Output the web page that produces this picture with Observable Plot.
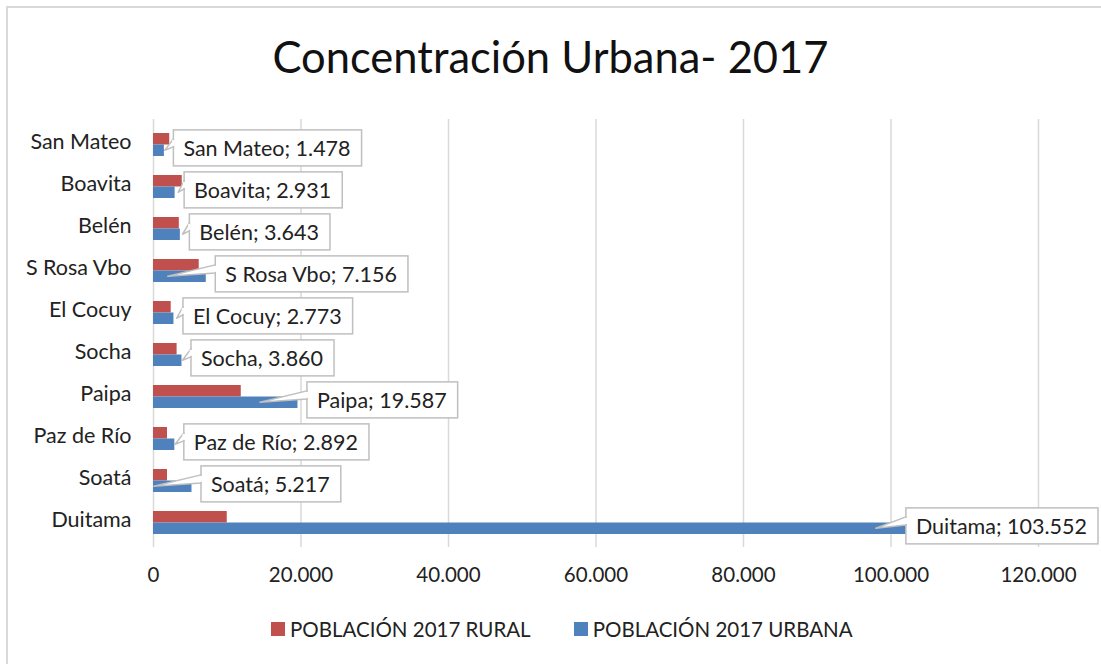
<!DOCTYPE html>
<html>
<head>
<meta charset="utf-8">
<script src="https://cdn.jsdelivr.net/npm/d3@7"></script>
<script src="https://cdn.jsdelivr.net/npm/@observablehq/plot@0.6"></script>
<style>
  html, body { margin: 0; padding: 0; background: #fff; overflow: hidden; }
  #chart { position: relative; width: 1101px; height: 664px; font-family: Lato, "Open Sans", sans-serif; color: #222; }
  #frame { position: absolute; left: 6px; top: 6px; width: 1200px; height: 1000px; border: 2px solid #d9d9d9; pointer-events: none; }
  #title { height: 75px; padding-top: 30px; text-align: center; font-size: 43.5px; line-height: 1.2; color: #111; box-sizing: content-box; white-space: nowrap; }
  #legend { position: absolute; top: 617px; left: 271px; display: flex; align-items: center; font-size: 20.5px; color: #222; white-space: nowrap; }
  .sw { width: 14px; height: 14px; display: inline-block; margin-right: 5px; }
  .item { display: flex; align-items: center; }
</style>
</head>
<body>
<div id="chart">
  <div id="frame"></div>
  <div id="title">Concentración Urbana- 2017</div>
  <div id="plot"></div>
  <div id="legend"></div>
</div>
<script>
const municipios = ["San Mateo", "Boavita", "Belén", "S Rosa Vbo", "El Cocuy", "Socha", "Paipa", "Paz de Río", "Soatá", "Duitama"];
const rural = [2200, 3900, 3500, 6200, 2400, 3200, 11900, 1900, 1900, 10000];
const urbana = [1478, 2931, 3643, 7156, 2773, 3860, 19587, 2892, 5217, 103552];
const etiquetas = ["San Mateo; 1.478", "Boavita; 2.931", "Belén; 3.643", "S Rosa Vbo; 7.156", "El Cocuy; 2.773", "Socha, 3.860", "Paipa; 19.587", "Paz de Río; 2.892", "Soatá; 5.217", "Duitama; 103.552"];
const puntero = [1600, 3400, 4000, 2000, 3200, 4000, 14500, 3000, 100, 98000];
const xTicks = [0, 20000, 40000, 60000, 80000, 100000, 120000];
const series = ["POBLACIÓN 2017 RURAL", "POBLACIÓN 2017 URBANA"];
const colores = ["#C0504D", "#4F81BD"];

const rows = municipios.map((m, i) => ({municipio: m, rural: rural[i], urbana: urbana[i], etiqueta: etiquetas[i], puntero: puntero[i]}));
const fmt = d => d === 0 ? "0" : d3.format(",")(d).replace(/,/g, ".");

const plot = Plot.plot({
  width: 1101,
  height: 490,
  marginTop: 14,
  marginBottom: 48,
  marginLeft: 153,
  marginRight: 63,
  style: {fontFamily: "Lato, 'Open Sans', sans-serif", fontSize: "20px", color: "#222", background: "transparent", overflow: "visible"},
  x: {domain: [0, 120000], label: null},
  y: {domain: municipios, paddingInner: 0.46, paddingOuter: 0.23, label: null},
  marks: [
    Plot.gridX(xTicks, {stroke: "#d9d9d9", strokeOpacity: 1, strokeWidth: 1.5}),
    Plot.barX(rows, {x: "rural", y: "municipio", fill: colores[0], insetBottom: 11.5}),
    Plot.barX(rows, {x: "urbana", y: "municipio", fill: colores[1], insetTop: 11.5}),
    Plot.text(rows, {x: "urbana", y: "municipio", text: "etiqueta", textAnchor: "start", dx: 19, dy: 4, fontSize: 21.5, fill: "#222"}),
    Plot.axisX({ticks: xTicks, tickSize: 0, tickPadding: 20, tickFormat: fmt, fontSize: 20.5, label: null}),
    Plot.axisY({tickSize: 0, tickPadding: 22, fontSize: 21.5, dy: -3, label: null})
  ]
});
document.getElementById("plot").append(plot);

// callout boxes behind the labels
const NS = "http://www.w3.org/2000/svg";
const xs = plot.scale("x"), ys = plot.scale("y");
const bw = ys.bandwidth;
const svgRect = plot.getBoundingClientRect();
const labelGroup = [...plot.querySelectorAll('g[aria-label="text"]')][0];
const boxG = document.createElementNS(NS, "g");
labelGroup.parentNode.insertBefore(boxG, labelGroup);
[...labelGroup.querySelectorAll("text")].forEach((t, i) => {
  let r = t.getBoundingClientRect();
  let left = r.left - svgRect.left - 10;
  let right = r.right - svgRect.left + 11;
  const maxRight = 1098;
  if (right > maxRight) {
    const shift = right - maxRight;
    const g = document.createElementNS(NS, "g");
    g.setAttribute("transform", `translate(${-shift},0)`);
    t.replaceWith(g);
    g.append(t);
    left -= shift; right -= shift;
  }
  const cy = (r.top + r.bottom) / 2 - svgRect.top;
  const top = cy - 18, h = 36;
  const rect = document.createElementNS(NS, "rect");
  rect.setAttribute("x", left); rect.setAttribute("y", top);
  rect.setAttribute("width", right - left); rect.setAttribute("height", h);
  rect.setAttribute("fill", "#fff"); rect.setAttribute("stroke", "#bfbfbf"); rect.setAttribute("stroke-width", 1.5);
  boxG.append(rect);
  const tx = xs.apply(rows[i].puntero);
  const ty = ys.apply(rows[i].municipio) + bw * 0.75;
  const poly = document.createElementNS(NS, "polygon");
  poly.setAttribute("points", `${tx},${ty} ${left},${top + 9} ${left},${top + 17}`);
  poly.setAttribute("fill", "#fff"); poly.setAttribute("stroke", "#bfbfbf"); poly.setAttribute("stroke-width", 1.5);
  poly.setAttribute("stroke-linejoin", "round");
  boxG.append(poly);
  const cover = document.createElementNS(NS, "line");
  cover.setAttribute("x1", left); cover.setAttribute("x2", left);
  cover.setAttribute("y1", top + 10); cover.setAttribute("y2", top + 16);
  cover.setAttribute("stroke", "#fff"); cover.setAttribute("stroke-width", 2.5);
  boxG.append(cover);
});

// legend
const legend = document.getElementById("legend");
series.forEach((s, i) => {
  const item = document.createElement("div");
  item.className = "item";
  if (i > 0) item.style.marginLeft = "43px";
  item.innerHTML = `<span class="sw" style="background:${colores[i]}"></span><span>${s}</span>`;
  legend.append(item);
});
</script>
</body>
</html>
